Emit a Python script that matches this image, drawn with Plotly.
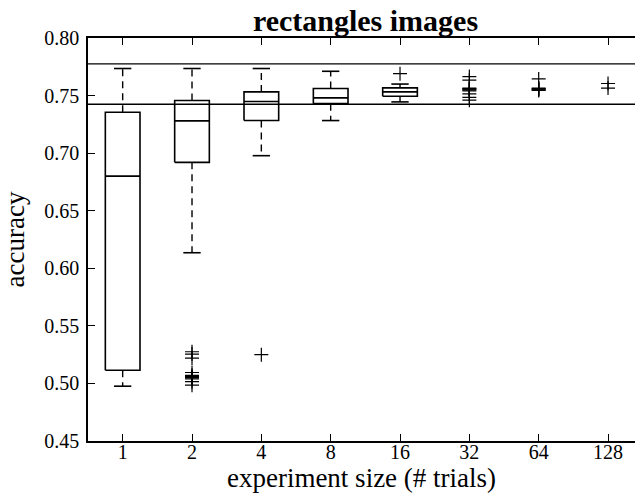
import plotly.graph_objects as go

# ---- data ----
sizes = ["1", "2", "4", "8", "16", "32", "64", "128"]
positions = [1, 2, 3, 4, 5, 6, 7, 8]

# box statistics for the first five experiment sizes
box_q1 = [0.5115, 0.6920, 0.7283, 0.7430, 0.7494]
box_med = [0.6800, 0.7280, 0.7448, 0.7480, 0.7532]
box_q3 = [0.7355, 0.7457, 0.7532, 0.7561, 0.7567]
whisk_lo = [0.4976, 0.6135, 0.6978, 0.7283, 0.7445]
whisk_hi = [0.7735, 0.7735, 0.7735, 0.7711, 0.7600]

# outliers per experiment size
fliers_1 = []
fliers_2 = [0.5275, 0.5255, 0.5220, 0.5095, 0.5070, 0.5060, 0.5055, 0.5050, 0.5040, 0.5015, 0.4985]
fliers_4 = [0.5250]
fliers_8 = []
fliers_16 = [0.7690]
fliers_32 = [0.7665, 0.7635, 0.7565, 0.7560, 0.7555, 0.7550, 0.7540, 0.7515, 0.7485, 0.7460]
fliers_64 = [0.7645, 0.7565, 0.7560, 0.7555, 0.7550, 0.7545]
fliers_128 = [0.7605, 0.7565]
fliers = [fliers_1, fliers_2, fliers_4, fliers_8, fliers_16, fliers_32, fliers_64, fliers_128]

ref_lines = [0.7775, 0.7425]

y_ticks = [0.45, 0.50, 0.55, 0.60, 0.65, 0.70, 0.75, 0.80]

# ---- build ----
BOX_HALF = 0.25
CAP_HALF = 0.125
x_range = [0.5, 8.389]

solid_x, solid_y = [], []
dash_x, dash_y = [], []
for i in range(len(box_q1)):
    p = positions[i]
    solid_x += [p - BOX_HALF, p + BOX_HALF, p + BOX_HALF, p - BOX_HALF, p - BOX_HALF, None]
    solid_y += [box_q1[i], box_q1[i], box_q3[i], box_q3[i], box_q1[i], None]
    solid_x += [p - BOX_HALF, p + BOX_HALF, None]
    solid_y += [box_med[i], box_med[i], None]
    solid_x += [p - CAP_HALF, p + CAP_HALF, None, p - CAP_HALF, p + CAP_HALF, None]
    solid_y += [whisk_hi[i], whisk_hi[i], None, whisk_lo[i], whisk_lo[i], None]
    dash_x += [p, p, None, p, p, None]
    dash_y += [box_q3[i], whisk_hi[i], None, box_q1[i], whisk_lo[i], None]

fx, fy = [], []
for i, fl in enumerate(fliers):
    for v in fl:
        fx.append(positions[i])
        fy.append(v)

fig = go.Figure()

for v in ref_lines:
    fig.add_trace(go.Scatter(x=x_range, y=[v, v], mode="lines",
                             line=dict(color="black", width=1.4),
                             hoverinfo="skip", showlegend=False))

fig.add_trace(go.Scatter(x=dash_x, y=dash_y, mode="lines",
                         line=dict(color="black", width=1.4, dash="7px,5px"),
                         showlegend=False))
fig.add_trace(go.Scatter(x=solid_x, y=solid_y, mode="lines",
                         line=dict(color="black", width=1.6),
                         showlegend=False))
fig.add_trace(go.Scatter(x=fx, y=fy, mode="markers",
                         marker=dict(symbol="cross-thin", size=10,
                                     line=dict(color="black", width=1.2),
                                     color="black"),
                         showlegend=False))

FONT = "Liberation Serif"

fig.update_layout(
    width=635, height=501,
    margin=dict(l=88, r=0, t=38, b=60),
    paper_bgcolor="white", plot_bgcolor="white",
    font=dict(family=FONT, size=20, color="black"),
    title=dict(text="<b>rectangles images</b>", x=365.5 / 635, xanchor="center",
               xref="container", y=1 - 20 / 501, yanchor="middle",
               font=dict(family=FONT, size=30, color="black")),
    showlegend=False,
)

fig.update_xaxes(
    range=x_range, tickmode="array", tickvals=positions, ticktext=sizes,
    showgrid=False, zeroline=False,
    showline=True, linecolor="black", linewidth=1.6, mirror="ticks",
    ticks="inside", ticklen=7, tickwidth=1.2, tickcolor="black",
    ticklabelstandoff=-8,
    title=dict(text="experiment size (# trials)", standoff=0,
               font=dict(family=FONT, size=27)),
    tickfont=dict(family=FONT, size=20),
)
fig.update_yaxes(
    range=[0.45, 0.80], tickmode="array", tickvals=y_ticks,
    ticktext=[f"{v:.2f}" for v in y_ticks],
    showgrid=False, zeroline=False,
    showline=True, linecolor="black", linewidth=1.6, mirror=False,
    ticks="inside", ticklen=7, tickwidth=1.2, tickcolor="black",
    ticklabelstandoff=3,
    title=dict(text="accuracy", standoff=12, font=dict(family=FONT, size=27)),
    tickfont=dict(family=FONT, size=20),
)

fig.write_html("out.html")
